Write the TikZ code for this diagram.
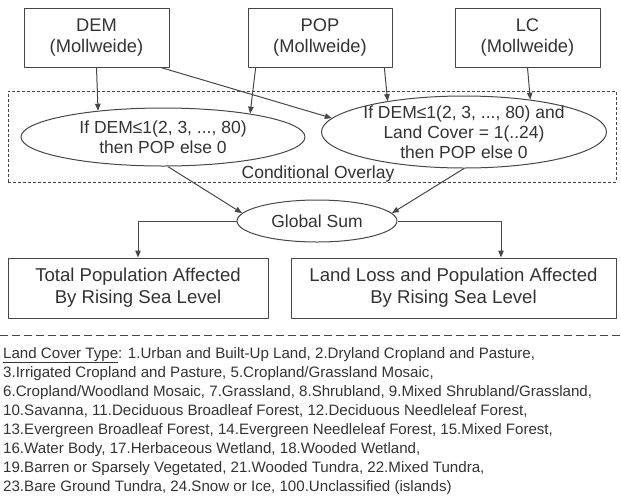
\documentclass[tikz,border=0pt]{standalone}
\usepackage{fontspec}
\setmainfont{Liberation Sans}
\usetikzlibrary{shapes.geometric,arrows.meta,positioning}
\definecolor{ink}{HTML}{333333}
\definecolor{edge}{HTML}{474747}
\begin{document}
\begin{tikzpicture}[x=1pt,y=-1pt,line join=round,>={Triangle[length=7pt,width=5.5pt]},
  box/.style={draw=edge,line width=1pt,minimum height=59pt,inner sep=0pt,align=center,text=ink,font=\fontsize{18.3}{21}\selectfont},
  oval/.style={ellipse,draw=edge,line width=1pt,inner sep=-20pt,align=center,text=ink,font=\fontsize{17.5}{20}\selectfont},
  conn/.style={->,draw=edge,line width=1pt}]
\useasboundingbox (0,0) rectangle (621,499);
\node[draw=edge,line width=1pt,dash pattern=on 3pt off 2pt,minimum width=608pt,minimum height=91pt,inner sep=0pt] (overlay) at (312,136.5) {};
\node[text=ink,font=\fontsize{17.5}{20}\selectfont,inner sep=0pt,anchor=south] (ovlabel) at ([xshift=6pt]overlay.south) {Conditional Overlay};
\node[box,minimum width=145pt] (dem) at (96.5,37.5) {DEM\\(Mollweide)};
\node[box,minimum width=144pt] (pop) at (320,37.5) {POP\\(Mollweide)};
\node[box,minimum width=145pt] (lc) at (527.5,37.5) {LC\\(Mollweide)};
\node[oval,minimum width=284pt,minimum height=58pt] (condA) at (163,137) {If DEM≤1(2, 3, ..., 80)\\then POP else 0};
\node[oval,minimum width=285pt,minimum height=72pt] (condB) at (464,132) {If DEM≤1(2, 3, ..., 80) and\\Land Cover = 1(..24)\\then POP else 0};
\node[oval,minimum width=160pt,minimum height=42pt] (gsum) at (317,221) {Global Sum};
\node[box,minimum width=260pt,minimum height=60pt,font=\fontsize{18.6}{22}\selectfont] (total) at (138,288) {Total Population Affected\\By Rising Sea Level};
\node[box,minimum width=325pt,minimum height=60pt,font=\fontsize{18.6}{22}\selectfont] (landloss) at (453.5,288) {Land Loss and Population Affected\\By Rising Sea Level};
\draw[conn] (dem.south) -- (condA.158.9);
\draw[conn] (dem.335.1) -- (condB.174.1);
\draw[conn] (pop.205.1) -- (condA.15.6);
\draw[conn] (pop.335.6) -- (condB.158.2);
\draw[conn] (lc.south) -- (condB.26.7);
\draw[conn] (condA.279.8) -- (gsum.174);
\draw[conn] (condB.south) -- (gsum.6);
\draw[conn] (gsum.west) -| (total.north);
\draw[conn] (gsum.east) -| ([xshift=47.5pt]landloss.north);
\coordinate (sepL) at (0,335);
\coordinate (sepR) at (621,335);
\draw[edge,line width=1pt,dash pattern=on 8pt off 4pt] (sepL) -- (sepR);
\node[anchor=north west,inner sep=0pt,align=left,text=ink,font=\fontsize{15.1}{19}\selectfont] (legend) at (3,347) {\underline{Land Cover Type}: 1.Urban and Built-Up Land, 2.Dryland Cropland and Pasture,\\
3.Irrigated Cropland and Pasture, 5.Cropland/Grassland Mosaic,\\
6.Cropland/Woodland Mosaic, 7.Grassland, 8.Shrubland, 9.Mixed Shrubland/Grassland,\\
10.Savanna, 11.Deciduous Broadleaf Forest, 12.Deciduous Needleleaf Forest,\\
13.Evergreen Broadleaf Forest, 14.Evergreen Needleleaf Forest, 15.Mixed Forest,\\
16.Water Body, 17.Herbaceous Wetland, 18.Wooded Wetland,\\
19.Barren or Sparsely Vegetated, 21.Wooded Tundra, 22.Mixed Tundra,\\
23.Bare Ground Tundra, 24.Snow or Ice, 100.Unclassified (islands)};
\end{tikzpicture}
\end{document}
